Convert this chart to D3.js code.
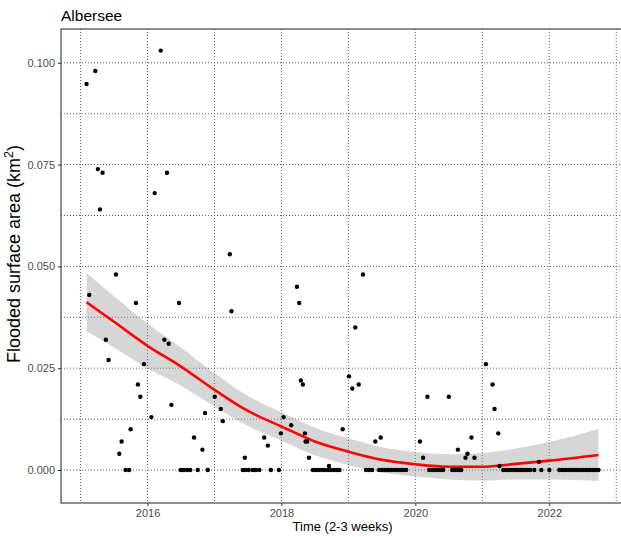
<!DOCTYPE html>
<html><head><meta charset="utf-8">
<script src="https://cdn.jsdelivr.net/npm/d3@7"></script>
<style>
html,body{margin:0;padding:0;background:#fff;}
svg{display:block;font-family:"Liberation Sans",Arial,sans-serif;}
</style></head>
<body><svg id="chart" width="621" height="537"></svg>
<script>
// ---- data (decimal years, km^2) ----
const years = [2015.090, 2015.130, 2015.220, 2015.259, 2015.289, 2015.329, 2015.378, 2015.419, 2015.528, 2015.579, 2015.613, 2015.673, 2015.726, 2015.748, 2015.827, 2015.857, 2015.893, 2015.947, 2016.058, 2016.107, 2016.197, 2016.252, 2016.291, 2016.316, 2016.357, 2016.470, 2016.496, 2016.541, 2016.593, 2016.638, 2016.695, 2016.750, 2016.820, 2016.859, 2016.900, 2017.004, 2017.094, 2017.124, 2017.229, 2017.254, 2017.423, 2017.453, 2017.468, 2017.513, 2017.573, 2017.618, 2017.670, 2017.742, 2017.797, 2017.842, 2017.962, 2017.992, 2018.032, 2018.146, 2018.231, 2018.266, 2018.291, 2018.321, 2018.351, 2018.361, 2018.385, 2018.411, 2018.470, 2018.515, 2018.560, 2018.605, 2018.650, 2018.695, 2018.710, 2018.740, 2018.785, 2018.829, 2018.867, 2018.915, 2019.009, 2019.058, 2019.103, 2019.154, 2019.218, 2019.263, 2019.308, 2019.353, 2019.402, 2019.458, 2019.483, 2019.503, 2019.548, 2019.592, 2019.637, 2019.682, 2019.727, 2019.772, 2019.817, 2019.862, 2020.067, 2020.116, 2020.180, 2020.206, 2020.251, 2020.295, 2020.340, 2020.385, 2020.415, 2020.500, 2020.550, 2020.595, 2020.635, 2020.640, 2020.684, 2020.749, 2020.779, 2020.838, 2020.883, 2021.054, 2021.153, 2021.183, 2021.238, 2021.257, 2021.313, 2021.357, 2021.402, 2021.447, 2021.492, 2021.537, 2021.582, 2021.627, 2021.672, 2021.716, 2021.776, 2021.847, 2021.881, 2022.001, 2022.150, 2022.195, 2022.240, 2022.285, 2022.330, 2022.375, 2022.420, 2022.465, 2022.510, 2022.554, 2022.599, 2022.644, 2022.689, 2022.734];
const areas = [0.0948, 0.043, 0.098, 0.0739, 0.064, 0.073, 0.032, 0.027, 0.048, 0.004, 0.007, 0, 0, 0.010, 0.041, 0.021, 0.018, 0.026, 0.013, 0.068, 0.103, 0.032, 0.073, 0.031, 0.016, 0.041, 0, 0, 0, 0, 0.008, 0, 0.005, 0.014, 0, 0.018, 0.015, 0.012, 0.053, 0.039, 0, 0.003, 0, 0, 0, 0, 0, 0.008, 0.006, 0, 0, 0.009, 0.013, 0.011, 0.045, 0.041, 0.022, 0.021, 0.009, 0.007, 0.007, 0.003, 0, 0, 0, 0, 0, 0, 0.001, 0, 0, 0, 0, 0.010, 0.023, 0.020, 0.035, 0.021, 0.048, 0, 0, 0, 0.007, 0, 0.008, 0, 0, 0, 0, 0, 0, 0, 0, 0, 0.007, 0.003, 0.018, 0, 0, 0, 0, 0, 0, 0.018, 0, 0, 0.005, 0, 0, 0.003, 0.004, 0.008, 0.003, 0.026, 0.021, 0.015, 0.009, 0.001, 0, 0, 0, 0, 0, 0, 0, 0, 0, 0, 0, 0.002, 0, 0, 0, 0, 0, 0, 0, 0, 0, 0, 0, 0, 0, 0, 0, 0];

// loess smooth
const fitYears  = [2015.09, 2015.5, 2016, 2016.5, 2017, 2017.5, 2018, 2018.5, 2019, 2019.5, 2020, 2020.5, 2021, 2021.5, 2022, 2022.734];
const fitValues = [0.0412, 0.0364, 0.0305, 0.0254, 0.0197, 0.0145, 0.0107, 0.0070, 0.0045, 0.0025, 0.0014, 0.0008, 0.0008, 0.0015, 0.0023, 0.0037];
const fitLower  = [0.0340, 0.0301, 0.0250, 0.0207, 0.0156, 0.0108, 0.0072, 0.0036, 0.0012, -0.0006, -0.0016, -0.0023, -0.0026, -0.0023, -0.0023, -0.0027];
const fitUpper  = [0.0484, 0.0427, 0.0360, 0.0301, 0.0238, 0.0182, 0.0142, 0.0104, 0.0078, 0.0056, 0.0044, 0.0039, 0.0042, 0.0053, 0.0069, 0.0101];

const xMajorTicks = [2016, 2018, 2020, 2022];
const xMinorTicks = [2015, 2017, 2019, 2021, 2023];
const xTickLabels = ["2016", "2018", "2020", "2022"];
const yMajorTicks = [0, 0.025, 0.05, 0.075, 0.1];
const yMinorTicks = [0.0125, 0.0375, 0.0625, 0.0875];
const yTickLabels = ["0.000", "0.025", "0.050", "0.075", "0.100"];

const titleText = "Albersee";
const xTitle = "Time (2-3 weeks)";

// ---- layout ----
const svg = d3.select("#chart");
const P = {left: 61, right: 624, top: 29, bottom: 503};

const x = d3.scaleLinear().domain([2014.708, 2023.116]).range([P.left, P.right]);
const y = d3.scaleLinear().domain([-0.0081, 0.1083]).range([P.bottom, P.top]);

svg.append("rect").attr("width", 621).attr("height", 537).attr("fill", "#fff");

svg.append("defs").append("clipPath").attr("id", "clip")
  .append("rect").attr("x", P.left).attr("y", P.top)
  .attr("width", P.right - P.left).attr("height", P.bottom - P.top);

const panel = svg.append("g").attr("clip-path", "url(#clip)");

// grid
const gridColor = "#5f5f5f";
const dash = "1,2";
panel.selectAll(".gx").data(xMajorTicks.concat(xMinorTicks)).join("line")
  .attr("x1", d => x(d)).attr("x2", d => x(d))
  .attr("y1", P.top).attr("y2", P.bottom)
  .attr("stroke", gridColor).attr("stroke-width", 1).attr("stroke-dasharray", dash);
panel.selectAll(".gy").data(yMajorTicks.concat(yMinorTicks)).join("line")
  .attr("y1", d => y(d)).attr("y2", d => y(d))
  .attr("x1", P.left).attr("x2", P.right)
  .attr("stroke", gridColor).attr("stroke-width", 1).attr("stroke-dasharray", dash);

// ribbon + smooth line
const fit = fitYears.map((t, i) => ({t, v: fitValues[i], lo: fitLower[i], hi: fitUpper[i]}));
panel.append("path").datum(fit)
  .attr("d", d3.area().x(d => x(d.t)).y0(d => y(d.lo)).y1(d => y(d.hi)).curve(d3.curveMonotoneX))
  .attr("fill", "#999999").attr("fill-opacity", 0.4);
panel.append("path").datum(fit)
  .attr("d", d3.line().x(d => x(d.t)).y(d => y(d.v)).curve(d3.curveMonotoneX))
  .attr("fill", "none").attr("stroke", "#ff0000").attr("stroke-width", 2.6);

// points
const pts = years.map((t, i) => ({t, v: areas[i]}));
panel.selectAll(".pt").data(pts).join("circle")
  .attr("cx", d => x(d.t)).attr("cy", d => y(d.v)).attr("r", 2.2).attr("fill", "#000");

// panel border
svg.append("rect").attr("x", P.left).attr("y", P.top)
  .attr("width", P.right - P.left).attr("height", P.bottom - P.top)
  .attr("fill", "none").attr("stroke", "#333").attr("stroke-width", 1.1);

// axes
const xAxis = d3.axisBottom(x).tickValues(xMajorTicks).tickFormat((d, i) => xTickLabels[i]).tickSize(3).tickPadding(3);
const gx = svg.append("g").attr("transform", `translate(0,${P.bottom})`).call(xAxis);
gx.select(".domain").remove();
gx.selectAll("line").attr("stroke", "#333");
gx.selectAll("text").attr("fill", "#4d4d4d").attr("font-size", "11px").attr("font-family", "Liberation Sans, Arial, sans-serif");

const yAxis = d3.axisLeft(y).tickValues(yMajorTicks).tickFormat((d, i) => yTickLabels[i]).tickSize(3).tickPadding(3);
const gy = svg.append("g").attr("transform", `translate(${P.left},0)`).call(yAxis);
gy.select(".domain").remove();
gy.selectAll("line").attr("stroke", "#333");
gy.selectAll("text").attr("fill", "#4d4d4d").attr("font-size", "11px").attr("font-family", "Liberation Sans, Arial, sans-serif");

// titles
svg.append("text").attr("x", P.left).attr("y", 21).attr("font-size", "15.5px").attr("fill", "#000").text(titleText);
svg.append("text").attr("x", (P.left + P.right) / 2).attr("y", 531).attr("text-anchor", "middle")
  .attr("font-size", "13px").attr("fill", "#000").text(xTitle);
const yt = svg.append("text").attr("transform", "translate(20,363) rotate(-90)")
  .attr("font-size", "18px").attr("fill", "#000");
yt.append("tspan").text("Flooded surface area (km");
yt.append("tspan").attr("font-size", "12.5px").attr("dy", -7).text("2");
yt.append("tspan").attr("dy", 7).text(")");
</script></body></html>
